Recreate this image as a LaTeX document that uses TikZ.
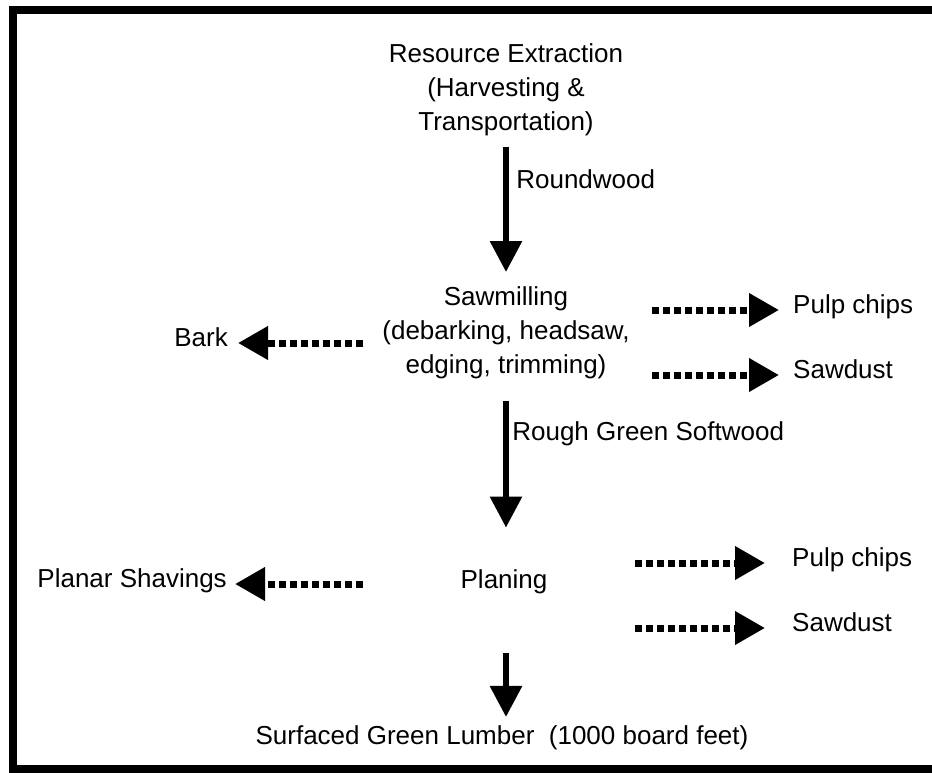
\documentclass[tikz,border=0pt]{standalone}
\usepackage{fontspec}
\setmainfont{Liberation Sans}
\usetikzlibrary{arrows.meta,positioning}

\begin{document}
\begin{tikzpicture}[x=1pt,y=-1pt,
    every node/.style={font=\fontsize{26}{34}\selectfont},
    stage/.style={inner sep=0pt,align=center},
    product/.style={inner ysep=0pt,text height=.716em,text depth=0pt},
    flow/.style={line width=6pt,-{Triangle[length=31pt,width=31pt]}},
    waste/.style={line width=7pt,dash pattern=on 7pt off 4pt,
        -{Triangle[length=30pt,width=32pt]}}]
    \useasboundingbox (0,0) rectangle (932,772);
    \clip (0,0) rectangle (932,772);
    \fill[white] (0,0) rectangle (932,772);
    % frame, cut off at the right and bottom
    \draw[line width=8pt] (13,10) -- (1000,10);
    \draw[line width=8pt] (13,6) -- (13,769) -- (1000,769);

    % main line
    \node[stage,anchor=north] (res) at (506,43.4)
        {Resource Extraction\\(Harvesting \&\\Transportation)};
    \node[stage,anchor=north] (saw) at (506,286.4)
        {Sawmilling\\(debarking, headsaw,\\edging, trimming)};
    \node[stage,anchor=base] (plan) at (504,588) {Planing};
    \node[stage,anchor=base] (lumber) at (502,744)
        {Surfaced Green Lumber\ \ (1000 board feet)};

    \draw[flow,shorten <=10.5pt,shorten >=14.4pt] (res) -- (saw)
        node[pos=.29,right=4pt] (round) {Roundwood};
    \draw[flow,shorten <=21.5pt,shorten >=41.4pt] (saw) -- (saw |- plan.north)
        node[pos=.29,right=0pt] (rough) {Rough Green Softwood};
    \draw[flow,shorten <=59.5pt,shorten >=8pt] (saw |- plan.south) -- (saw |- lumber.north);

    % by-products
    \node[product,anchor=east,inner xsep=10pt] (bark) at (238,343) {Bark};
    \node[product,anchor=west,inner xsep=14pt] (chipsA) at (779,310) {Pulp chips};
    \node[product,anchor=west,inner xsep=14pt] (dustA) at (779,375) {Sawdust};
    \node[product,anchor=east,inner xsep=8pt] (shav) at (235,584) {Planar Shavings};
    \node[product,anchor=west,inner xsep=27pt] (chipsB) at (765,563) {Pulp chips};
    \node[product,anchor=west,inner xsep=27pt] (dustB) at (765,628) {Sawdust};

    \coordinate (barkS) at (363,343);
    \coordinate (chipsAS) at (652,310);
    \coordinate (dustAS) at (652,375);
    \coordinate (shavS) at (363,584);
    \coordinate (chipsBS) at (635,563);
    \coordinate (dustBS) at (635,628);

    \draw[waste] (barkS) -- (bark.east);
    \draw[waste] (chipsAS) -- (chipsA.west);
    \draw[waste] (dustAS) -- (dustA.west);
    \draw[waste] (shavS) -- (shav.east);
    \draw[waste] (chipsBS) -- (chipsB.west);
    \draw[waste] (dustBS) -- (dustB.west);
\end{tikzpicture}
\end{document}
